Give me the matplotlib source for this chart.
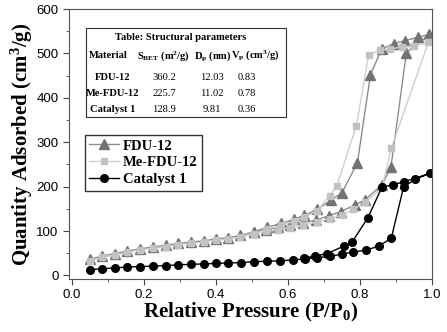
import matplotlib
matplotlib.use('Agg')
import matplotlib.pyplot as plt
from matplotlib.patches import Rectangle
from matplotlib.ticker import MultipleLocator

plt.rcParams['mathtext.fontset'] = 'custom'
plt.rcParams['mathtext.rm'] = 'Liberation Serif:bold'
plt.rcParams['mathtext.default'] = 'rm'

# FDU-12 (adsorption then desorption)
fdu_x = [0.05, 0.085, 0.12, 0.154, 0.19, 0.225, 0.26, 0.296, 0.331, 0.366, 0.40, 0.433,
         0.468, 0.505, 0.541, 0.58, 0.616, 0.645, 0.682, 0.72, 0.75, 0.793, 0.829, 0.861,
         0.895, 0.926, 0.96, 0.993,
         0.929, 0.886, 0.861, 0.815, 0.787, 0.747, 0.713, 0.678, 0.643, 0.606, 0.572, 0.539, 0.505]
fdu_y = [36, 44, 49, 55, 60, 64, 68, 72, 75, 78, 82, 85,
         90, 98, 108, 117, 126, 135, 149, 170, 186, 254, 452, 511,
         522, 529, 536, 543,
         502, 244, 204, 171, 159, 144, 134, 125, 118, 113, 108, 103, 98]

# Me-FDU-12
me_x = [0.05, 0.085, 0.12, 0.154, 0.19, 0.225, 0.26, 0.296, 0.331, 0.366, 0.40, 0.433,
        0.468, 0.505, 0.541, 0.58, 0.616, 0.645, 0.682, 0.716, 0.736, 0.79, 0.824, 0.856,
        0.884, 0.917, 0.949, 0.99,
        0.887, 0.861, 0.815, 0.782, 0.75, 0.717, 0.68, 0.643, 0.606, 0.572, 0.539, 0.505]
me_y = [33, 41, 46, 52, 57, 61, 65, 69, 72, 75, 79, 82,
        86, 94, 104, 113, 122, 131, 146, 180, 202, 337, 496, 508,
        509, 515, 517, 525,
        287, 197, 165, 149, 136, 128, 120, 113, 107, 103, 99, 94]

# Catalyst 1
cat_x = [0.05, 0.085, 0.12, 0.154, 0.19, 0.225, 0.26, 0.296, 0.331, 0.366, 0.40, 0.433,
         0.47, 0.505, 0.541, 0.578, 0.613, 0.647, 0.68, 0.717, 0.75, 0.782, 0.817, 0.852,
         0.887, 0.921, 0.954, 0.995,
         0.923, 0.891, 0.861, 0.822, 0.778, 0.755, 0.708, 0.676, 0.645]
cat_y = [13, 15, 17, 19, 20, 21, 22, 24, 25, 26, 27, 28,
         29, 31, 32, 33, 35, 37, 40, 43, 48, 53, 57, 66,
         84, 199, 217, 230,
         211, 204, 199, 130, 75, 66, 49, 44, 39]

materials = ['FDU-12', 'Me-FDU-12', 'Catalyst 1']
s_bet = ['360.2', '225.7', '128.9']
d_p = ['12.03', '11.02', '9.81']
v_p = ['0.83', '0.78', '0.36']

W, H = 447, 332
fig = plt.figure(figsize=(W / 100, H / 100), dpi=100)
ax = fig.add_axes([69 / W, 1 - 279 / H, 363 / W, 270 / H])

ax.plot(fdu_x, fdu_y, color='#8c8c8c', lw=1, marker='^', ms=6.5,
        mfc='#737373', mec='#737373', label='FDU-12')
ax.plot(me_x, me_y, color='#cfcfcf', lw=1, marker='s', ms=5,
        mfc='#c2c2c2', mec='#c2c2c2', label='Me-FDU-12')
ax.plot(cat_x, cat_y, color='black', lw=1, marker='o', ms=5.5,
        mfc='black', mec='black', label='Catalyst 1')

ax.set_xlim(-0.008, 1.0)
ax.set_ylim(-8, 600)
ax.xaxis.set_major_locator(MultipleLocator(0.2))
ax.xaxis.set_minor_locator(MultipleLocator(0.1))
ax.yaxis.set_major_locator(MultipleLocator(100))
ax.yaxis.set_minor_locator(MultipleLocator(50))
ax.tick_params(which='both', direction='out', top=False, right=False,
               labelsize=9.5, color='#444444')
ax.tick_params(which='major', length=4)
ax.tick_params(which='minor', length=2.5)
for lab in ax.get_xticklabels() + ax.get_yticklabels():
    lab.set_family('Liberation Sans')
for s in ax.spines.values():
    s.set_color('#555555')

ax.set_xlabel('Relative Pressure (P/P$_0$)', family='Liberation Serif',
              weight='bold', fontsize=15, labelpad=0)
ax.set_ylabel('Quantity Adsorbed (cm$^3$/g)', family='Liberation Serif',
              weight='bold', fontsize=15, labelpad=1)

leg = ax.legend(loc='upper left', bbox_to_anchor=((85 - 69) / 363, 1 - (135 - 9) / 270),
                prop={'family': 'Liberation Serif', 'weight': 'bold', 'size': 10.5},
                frameon=True, fancybox=False, edgecolor='black',
                handlelength=2.0, handletextpad=0.3, borderpad=0.3, labelspacing=0.25,
                borderaxespad=0)
leg.get_frame().set_linewidth(1)

# table box
def fx(px):
    return px / W

def fy(py):
    return 1 - py / H

fig.patches.append(Rectangle((fx(86), fy(117)), fx(286) - fx(86), fy(28) - fy(117),
                             transform=fig.transFigure, fill=False, ec='#333333', lw=0.8))
tf = {'family': 'Liberation Serif', 'fontsize': 7.6}
fig.text(fx(181), fy(38), 'Table: Structural parameters', ha='center', va='center',
         weight='bold', **tf)
hy = fy(56)
fig.text(fx(89), hy, 'Material', ha='left', va='center', weight='bold', **tf)
fig.text(fx(137), hy, 'S$_{BET}$ (m$^2$/g)', ha='left', va='center', weight='bold', **tf)
fig.text(fx(194), hy, 'D$_p$ (nm)', ha='left', va='center', weight='bold', **tf)
fig.text(fx(231), hy, 'V$_p$ (cm$^3$/g)', ha='left', va='center', weight='bold', **tf)
for i, m in enumerate(materials):
    ry = fy(78 + 16 * i)
    fig.text(fx(113), ry, m, ha='center', va='center', weight='bold', **tf)
    fig.text(fx(164), ry, s_bet[i], ha='center', va='center', **tf)
    fig.text(fx(212), ry, d_p[i], ha='center', va='center', **tf)
    fig.text(fx(247), ry, v_p[i], ha='center', va='center', **tf)

fig.savefig('out.png', dpi=100)
